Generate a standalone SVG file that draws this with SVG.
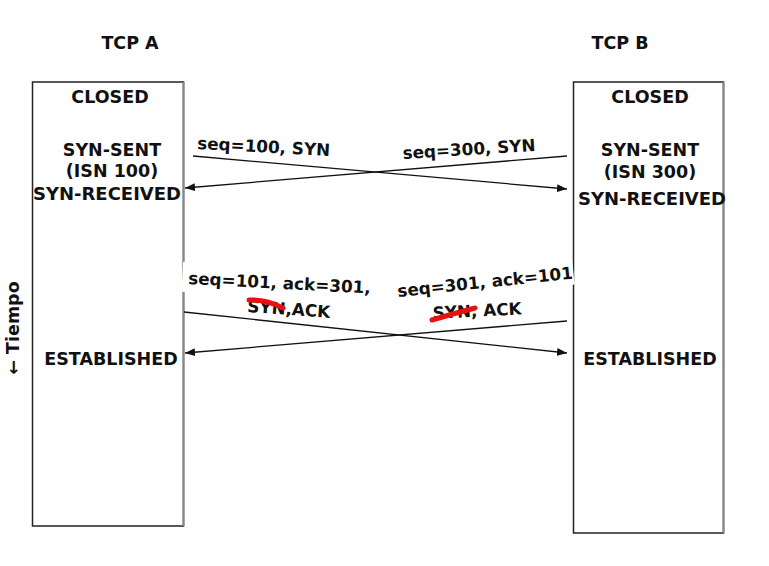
<svg xmlns="http://www.w3.org/2000/svg" width="769" height="566" viewBox="0 0 769 566">
<style>
text{font-family:"DejaVu Sans","Verdana",sans-serif;font-weight:bold;font-size:17.5px;fill:#111}
text.m{font-size:16.8px}
.c{text-anchor:middle}
.box{fill:#fff;stroke:#222;stroke-width:1.5}
.edge{stroke:#888;stroke-width:2}
.msg{stroke:#111;stroke-width:1.3;fill:none}
.strike{stroke:#e81010;stroke-width:5;fill:none;stroke-linecap:round}
</style>
<defs>
<marker id="ah" viewBox="0 0 10 10" refX="10" refY="5" markerWidth="10" markerHeight="10" markerUnits="userSpaceOnUse" orient="auto">
<path d="M0,1 L10,5 L0,9 Z" fill="#111"/>
</marker>
</defs>
<rect width="769" height="566" fill="#fff"/>
<g id="tcpA">
<text class="c" x="130" y="49">TCP A</text>
<rect class="box" x="32.5" y="82" width="151" height="444"/>
<line class="edge" x1="183.5" y1="82" x2="183.5" y2="526"/>
<text class="c" x="110" y="103">CLOSED</text>
<text class="c" x="112" y="156">SYN-SENT</text>
<text class="c" x="112" y="177">(ISN 100)</text>
<text class="c" x="107" y="200" textLength="148" lengthAdjust="spacingAndGlyphs">SYN-RECEIVED</text>
<text class="c" x="111" y="365">ESTABLISHED</text>
</g>
<g id="tcpB">
<text class="c" x="620" y="49">TCP B</text>
<rect class="box" x="573.5" y="82" width="150" height="451"/>
<line class="edge" x1="723.5" y1="82" x2="723.5" y2="533"/>
<text class="c" x="650" y="103">CLOSED</text>
<text class="c" x="650" y="156">SYN-SENT</text>
<text class="c" x="650" y="178">(ISN 300)</text>
<text class="c" x="652" y="205" textLength="148" lengthAdjust="spacingAndGlyphs">SYN-RECEIVED</text>
<text class="c" x="650" y="365">ESTABLISHED</text>
</g>
<g id="tiempo">
<text x="19" y="328" class="c" transform="rotate(-90 19 328)">← Tiempo</text>
</g>
<g id="connectors">
<line class="msg" x1="193" y1="156" x2="567" y2="189" marker-end="url(#ah)"/>
<line class="msg" x1="567" y1="156" x2="185" y2="188" marker-end="url(#ah)"/>
<line class="msg" x1="184" y1="312" x2="567" y2="353" marker-end="url(#ah)"/>
<line class="msg" x1="567" y1="321" x2="185" y2="353" marker-end="url(#ah)"/>
</g>
<g id="label1">
<text class="m" x="197" y="149" transform="rotate(3 197 149)">seq=100, SYN</text>
</g>
<g id="label2">
<text class="m" x="403" y="159" transform="rotate(-3.5 403 159)">seq=300, SYN</text>
</g>
<g id="label3">
<g transform="rotate(3 188 284)">
<rect x="182" y="262" width="186" height="30" fill="#fff"/>
<text class="m" x="188" y="284">seq=101, ack=301,</text>
</g>
<text class="m" x="247" y="312" transform="rotate(4 247 312)">SYN,ACK</text>
<path class="strike" d="M249,300 Q266,299 283,308"/>
</g>
<g id="label4">
<g transform="rotate(-6 398 297)">
<rect x="393" y="275" width="182" height="28" fill="#fff"/>
<text class="m" x="398" y="297">seq=301, ack=101</text>
</g>
<text class="m" x="433" y="319" transform="rotate(-3 433 319)">SYN, ACK</text>
<path class="strike" d="M432,320 Q452,314 475,308"/>
</g>
</svg>
